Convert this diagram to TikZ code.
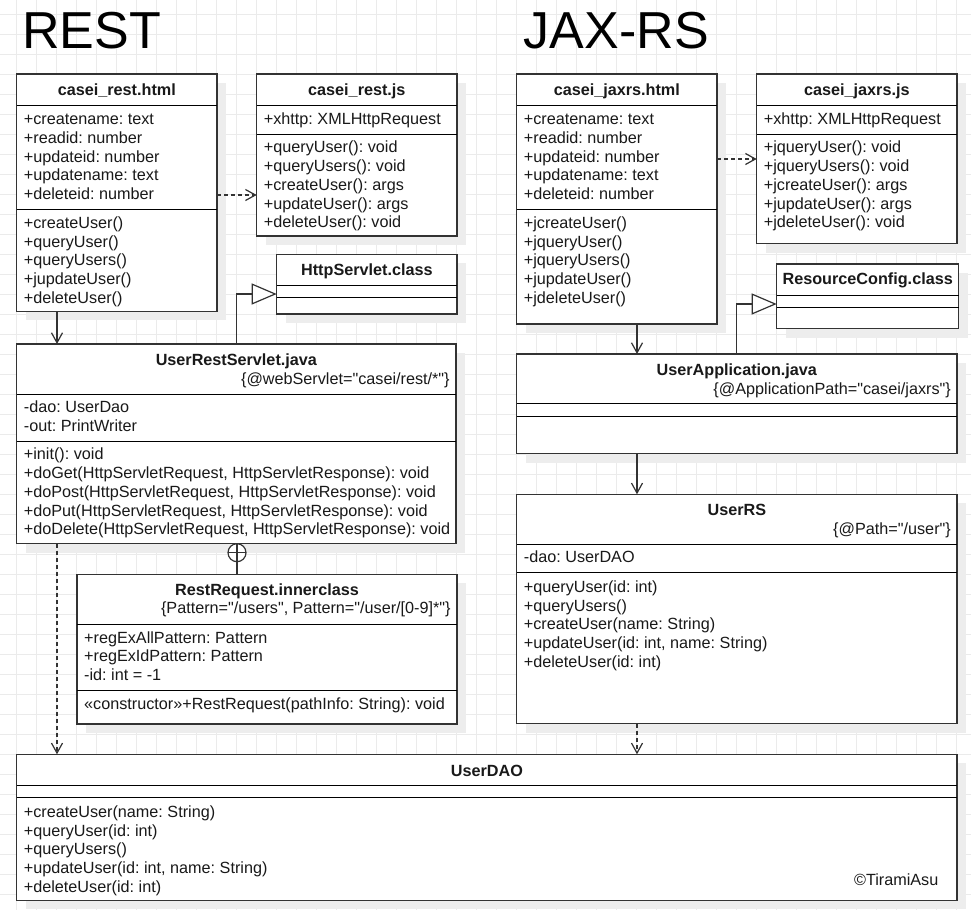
\documentclass[tikz,border=0pt]{standalone}
\usepackage{fontspec}
\setmainfont{Liberation Sans}[Ligatures=TeXOff]
\frenchspacing
\usetikzlibrary{arrows.meta,shadows}

\tikzset{
  gridline/.style={draw=black!8, line width=0.8pt},
  classbox/.style={draw=black!80, line width=1.2pt, fill=white, inner sep=0pt, outer sep=0pt,
    anchor=north west, drop shadow={shadow xshift=9pt, shadow yshift=-9pt, fill=black!7, opacity=1}},
  divider/.style={draw=black, line width=1pt},
  heading/.style={font=\fontsize{52}{60}\selectfont, inner sep=0pt, anchor=base west},
  classname/.style={font=\bfseries\fontsize{16.2}{19}\selectfont, text=black!90, inner sep=0pt, anchor=base},
  tag/.style={font=\fontsize{16.2}{19}\selectfont, text=black!90, inner sep=0pt, anchor=base east},
  members/.style={font=\fontsize{16.2}{18.7}\selectfont, text=black!90, align=left, inner sep=0pt, anchor=north west},
  assoc/.style={draw=black!80, line width=1.2pt, -{Straight Barb[length=10pt, width=11pt]}},
  depend/.style={assoc, dash pattern=on 4pt off 3pt},
  extends/.style={draw=black!80, line width=1.2pt, -{Triangle[length=25pt, width=21pt, fill=white]}},
  nestmark/.style={circle, draw=black!80, line width=1.2pt, fill=white, minimum size=18pt, inner sep=0pt, outer sep=0pt}
}

\begin{document}
\begin{tikzpicture}[x=1pt, y=-1pt]
      \useasboundingbox (0,0) rectangle (971,910);
      \fill[white] (0,0) rectangle (971,910);
      \foreach \gx in {16.7,36.7,...,966.7}
        \draw[gridline] (\gx,0) -- (\gx,910);
      \foreach \gy in {14,34,...,894}
        \draw[gridline] (0,\gy) -- (971,\gy);

      \node[heading] (rest) at (22,48) {REST};
      \node[heading] (jaxrs) at (523.7,48) {JAX-RS};

      \node[classbox, minimum width=200.3, minimum height=237.3] (resthtml) at (16.7,74) {};
      \node[classbox, minimum width=200.3, minimum height=162] (restjs) at (256.7,74) {};
      \node[classbox, minimum width=180.3, minimum height=59.7] (httpservlet) at (276.7,254.3) {};
      \node[classbox, minimum width=439.3, minimum height=199.7] (servlet) at (16.7,344) {};
      \node[classbox, minimum width=380, minimum height=149.7] (restrequest) at (77,574.3) {};
      \node[classbox, minimum width=940.3, minimum height=146] (userdao) at (16.7,754.3) {};
      \node[classbox, minimum width=200.3, minimum height=250] (jaxrshtml) at (516.7,74) {};
      \node[classbox, minimum width=200.3, minimum height=169.7] (jaxrsjs) at (756.7,74) {};
      \node[classbox, minimum width=182, minimum height=64.7] (resourceconfig) at (776.7,264) {};
      \node[classbox, minimum width=440.3, minimum height=99.7] (userapp) at (516.7,354) {};
      \node[classbox, minimum width=440.3, minimum height=229.4] (userrs) at (516.7,494.3) {};

      \draw[divider] ([yshift=-31pt]resthtml.north west) -- ([yshift=-31pt]resthtml.north east);
      \draw[divider] ([yshift=-135pt]resthtml.north west) -- ([yshift=-135pt]resthtml.north east);
      \draw[divider] ([yshift=-31pt]restjs.north west) -- ([yshift=-31pt]restjs.north east);
      \draw[divider] ([yshift=-60pt]restjs.north west) -- ([yshift=-60pt]restjs.north east);
      \draw[divider] ([yshift=-31pt]httpservlet.north west) -- ([yshift=-31pt]httpservlet.north east);
      \draw[divider] ([yshift=-43.4pt]httpservlet.north west) -- ([yshift=-43.4pt]httpservlet.north east);
      \draw[divider] ([yshift=-50.3pt]servlet.north west) -- ([yshift=-50.3pt]servlet.north east);
      \draw[divider] ([yshift=-97.7pt]servlet.north west) -- ([yshift=-97.7pt]servlet.north east);
      \draw[divider] ([yshift=-49.7pt]restrequest.north west) -- ([yshift=-49.7pt]restrequest.north east);
      \draw[divider] ([yshift=-116pt]restrequest.north west) -- ([yshift=-116pt]restrequest.north east);
      \draw[divider] ([yshift=-31pt]userdao.north west) -- ([yshift=-31pt]userdao.north east);
      \draw[divider] ([yshift=-43.4pt]userdao.north west) -- ([yshift=-43.4pt]userdao.north east);
      \draw[divider] ([yshift=-31pt]jaxrshtml.north west) -- ([yshift=-31pt]jaxrshtml.north east);
      \draw[divider] ([yshift=-135pt]jaxrshtml.north west) -- ([yshift=-135pt]jaxrshtml.north east);
      \draw[divider] ([yshift=-31pt]jaxrsjs.north west) -- ([yshift=-31pt]jaxrsjs.north east);
      \draw[divider] ([yshift=-60pt]jaxrsjs.north west) -- ([yshift=-60pt]jaxrsjs.north east);
      \draw[divider] ([yshift=-31.3pt]resourceconfig.north west) -- ([yshift=-31.3pt]resourceconfig.north east);
      \draw[divider] ([yshift=-43.7pt]resourceconfig.north west) -- ([yshift=-43.7pt]resourceconfig.north east);
      \draw[divider] ([yshift=-49.7pt]userapp.north west) -- ([yshift=-49.7pt]userapp.north east);
      \draw[divider] ([yshift=-62.7pt]userapp.north west) -- ([yshift=-62.7pt]userapp.north east);
      \draw[divider] ([yshift=-49.7pt]userrs.north west) -- ([yshift=-49.7pt]userrs.north east);
      \draw[divider] ([yshift=-78.4pt]userrs.north west) -- ([yshift=-78.4pt]userrs.north east);

      \node[classname] (resthtml-name) at (116.85,95.8) {casei\_rest.html};
      \node[members] (resthtml-attrs) at (23.7,111.4) {\strut+createname: text\\+readid: number\\+updateid: number\\+updatename: text\\+deleteid: number};
      \node[members] (resthtml-ops) at (23.7,215.1) {\strut+createUser()\\+queryUser()\\+queryUsers()\\+jupdateUser()\\+deleteUser()};

      \node[classname] (restjs-name) at (356.85,95.8) {casei\_rest.js};
      \node[members] (restjs-attrs) at (263.7,111.4) {\strut+xhttp: XMLHttpRequest};
      \node[members] (restjs-ops) at (263.7,139.7) {\strut+queryUser(): void\\+queryUsers(): void\\+createUser(): args\\+updateUser(): args\\+deleteUser(): void};

      \node[classname] (httpservlet-name) at (366.85,275.1) {HttpServlet.class};

      \node[classname] (servlet-name) at (236.35,365.8) {UserRestServlet.java};
      \node[tag] (servlet-tag) at (449.8,384.5) {\{@webServlet="casei/rest/*"\}};
      \node[members] (servlet-attrs) at (23.7,399.7) {\strut-dao: UserDao\\-out: PrintWriter};
      \node[members] (servlet-ops) at (23.7,446.7) {\strut+init(): void\\+doGet(HttpServletRequest, HttpServletResponse): void\\+doPost(HttpServletRequest, HttpServletResponse): void\\+doPut(HttpServletRequest, HttpServletResponse): void\\+doDelete(HttpServletRequest, HttpServletResponse): void};

      \node[classname] (restrequest-name) at (267,595.1) {RestRequest.innerclass};
      \node[tag] (restrequest-tag) at (450.8,613.8) {\{Pattern="/users", Pattern="/user/[0-9]*"\}};
      \node[members] (restrequest-attrs) at (84,629.7) {\strut+regExAllPattern: Pattern\\+regExIdPattern: Pattern\\-id: int = -1};
      \node[members] (restrequest-ops) at (84,695.7) {\strut«constructor»+RestRequest(pathInfo: String): void};

      \node[classname] (userdao-name) at (486.85,776) {UserDAO};
      \node[members] (userdao-ops) at (23.7,804.1) {\strut+createUser(name: String)\\+queryUser(id: int)\\+queryUsers()\\+updateUser(id: int, name: String)\\+deleteUser(id: int)};
      \node[tag] (copyright) at (938.5,885.5) {©TiramiAsu};

      \node[classname] (jaxrshtml-name) at (616.85,95.8) {casei\_jaxrs.html};
      \node[members] (jaxrshtml-attrs) at (523.7,111.4) {\strut+createname: text\\+readid: number\\+updateid: number\\+updatename: text\\+deleteid: number};
      \node[members] (jaxrshtml-ops) at (523.7,215.1) {\strut+jcreateUser()\\+jqueryUser()\\+jqueryUsers()\\+jupdateUser()\\+jdeleteUser()};

      \node[classname] (jaxrsjs-name) at (856.85,95.8) {casei\_jaxrs.js};
      \node[members] (jaxrsjs-attrs) at (763.7,111.4) {\strut+xhttp: XMLHttpRequest};
      \node[members] (jaxrsjs-ops) at (763.7,139.7) {\strut+jqueryUser(): void\\+jqueryUsers(): void\\+jcreateUser(): args\\+jupdateUser(): args\\+jdeleteUser(): void};

      \node[classname] (resourceconfig-name) at (867.7,284.8) {ResourceConfig.class};

      \node[classname] (userapp-name) at (736.85,375.8) {UserApplication.java};
      \node[tag] (userapp-tag) at (951,394.5) {\{@ApplicationPath="casei/jaxrs"\}};

      \node[classname] (userrs-name) at (736.85,515.1) {UserRS};
      \node[tag] (userrs-tag) at (951,534.2) {\{@Path="/user"\}};
      \node[members] (userrs-attrs) at (523.7,549.7) {\strut-dao: UserDAO};
      \node[members] (userrs-ops) at (523.7,579.1) {\strut+queryUser(id: int)\\+queryUsers()\\+createUser(name: String)\\+updateUser(id: int, name: String)\\+deleteUser(id: int)};

      \draw[depend] ([yshift=-121pt]resthtml.north east) -- ([yshift=-121pt]restjs.north west);
      \draw[assoc] ([xshift=40.3pt]resthtml.south west) -- ([xshift=40.3pt]servlet.north west);
      \draw[extends] ([xshift=220pt]servlet.north west) |- ([yshift=-39.7pt]httpservlet.north west);
      \node[nestmark, anchor=north] (nest) at ([xshift=220.3pt]servlet.south west) {};
      \draw[draw=black!80, line width=1.2pt] (nest.north) -- ([xshift=160pt]restrequest.north west);
      \draw[draw=black!80, line width=1.2pt] (nest.west) -- (nest.east);
      \draw[depend] ([xshift=40.3pt]servlet.south west) -- ([xshift=40.3pt]userdao.north west);

      \draw[depend] ([yshift=-85pt]jaxrshtml.north east) -- ([yshift=-85pt]jaxrsjs.north west);
      \draw[assoc] ([xshift=120.3pt]jaxrshtml.south west) -- ([xshift=120.3pt]userapp.north west);
      \draw[extends] ([xshift=220pt]userapp.north west) |- ([yshift=-40pt]resourceconfig.north west);
      \draw[assoc] ([xshift=120.3pt]userapp.south west) -- ([xshift=120.3pt]userrs.north west);
      \draw[depend] ([xshift=120.3pt]userrs.south west) -- ([xshift=620.3pt]userdao.north west);
\end{tikzpicture}
\end{document}
